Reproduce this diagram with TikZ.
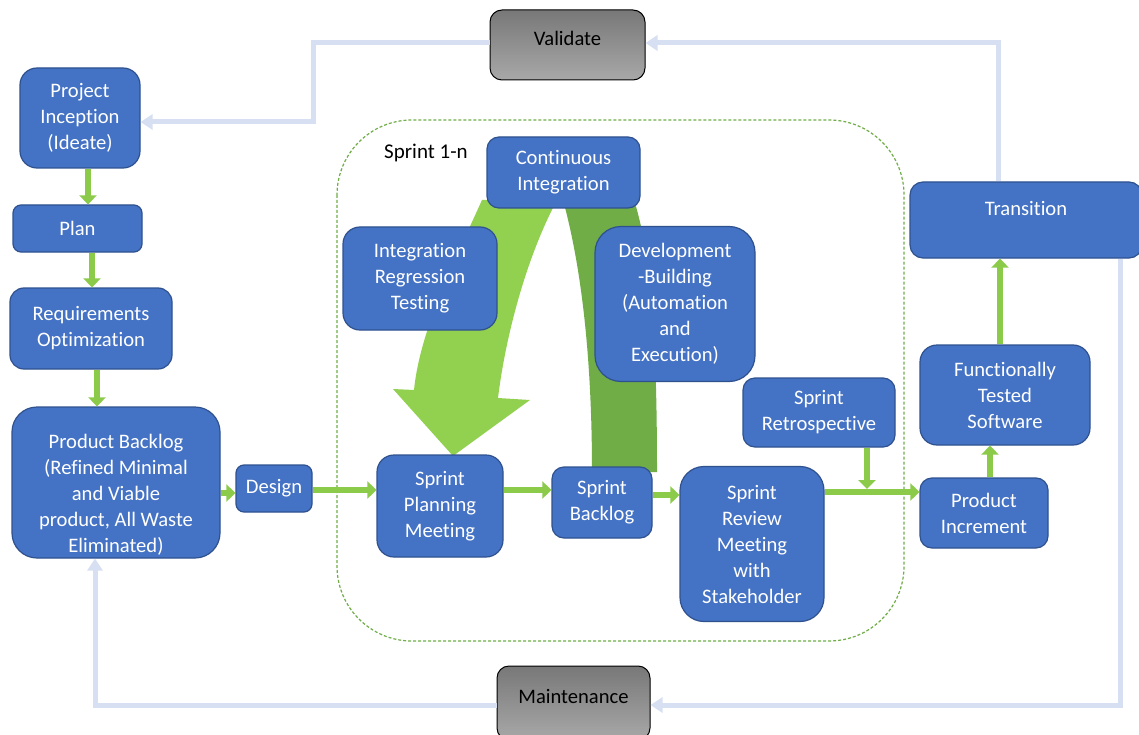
\documentclass[tikz,border=0pt]{standalone}
\usepackage{fontspec}
\setmainfont{Carlito}[Ligatures=NoCommon]
\usetikzlibrary{arrows.meta}

\definecolor{boxblue}{HTML}{4472C4}
\definecolor{boxedge}{HTML}{2F528F}
\definecolor{flowgreen}{HTML}{8CCB4A}
\definecolor{bandgreen}{HTML}{92D050}
\definecolor{banddark}{HTML}{70AD47}
\definecolor{loopblue}{RGB}{214,224,242}
\definecolor{greytop}{RGB}{120,120,120}
\definecolor{greybot}{RGB}{168,168,168}

% text lifted (positive) or lowered (negative) inside its box
\newcommand{\liftline}[2]{\raisebox{#1}[0pt][0pt]{#2}}
\newcommand{\liftblock}[2]{\raisebox{#1}[0pt][0pt]{\begin{tabular}{@{}c@{}}#2\end{tabular}}}

\tikzset{
  box/.style={draw=boxedge, line width=1.2pt, fill=boxblue, text=white,
    align=center, inner sep=2pt, font=\fontsize{20.6}{26}\selectfont},
  greybox/.style={draw=black, line width=1pt, top color=greytop, bottom color=greybot,
    text=black, align=center, inner sep=2pt, rounded corners=12pt,
    font=\fontsize{20.6}{26}\selectfont},
  garrow/.style={draw=flowgreen, line width=6pt,
    -{Triangle[width=17pt,length=9pt]}},
  loop/.style={draw=loopblue, line width=5pt,
    -{Triangle[width=15pt,length=12pt]}},
  sprintzone/.style={draw=banddark, line width=1.2pt, dash pattern=on 3pt off 2pt,
    rounded corners=75pt}
}

\begin{document}
\begin{tikzpicture}[x=1pt,y=-1pt]
\clip (0,0) rectangle (1139,735);
\fill[white] (0,0) rectangle (1139,735);

% sprint boundary
\draw[sprintzone] (337,120) rectangle (904,641);
\node[font=\fontsize{21}{26}\selectfont, text=black] (sprintlabel) at (426,153) {Sprint 1-n};

% curved bands of the build / test cycle
\fill[bandgreen] (482,200) .. controls (455,260) and (420,330) .. (414,390)
  -- (393,389) -- (453,456) -- (530,400) -- (498,398)
  .. controls (505,340) and (525,260) .. (557,200) -- cycle;
\fill[banddark] (563,200) .. controls (585,280) and (592,380) .. (592,472)
  -- (657,472) .. controls (657,330) and (650,250) .. (634,200) -- cycle;

% process boxes
\node[greybox, minimum width=155pt, minimum height=70pt] (validate) at (567.5,45) {\liftline{-1pt}{Validate}};
\node[greybox, minimum width=153pt, minimum height=74pt] (maint) at (573.5,703) {\liftline{0pt}{Maintenance}};

\node[box, minimum width=120pt, minimum height=100pt, rounded corners=17pt] (inception) at (80,118) {Project\\Inception\\(Ideate)};
\node[box, minimum width=129pt, minimum height=47pt, rounded corners=8pt] (plan) at (77.5,228.5) {Plan};
\node[box, minimum width=162pt, minimum height=81pt, rounded corners=14pt] (req) at (91,328.5) {Requirements\\Optimization};
\node[box, minimum width=208pt, minimum height=151pt, rounded corners=25pt] (pb) at (116,482.5)
  {\liftblock{-17.5pt}{Product Backlog\\(Refined Minimal\\and Viable\\product, All Waste\\Eliminated)}};
\node[box, minimum width=76pt, minimum height=47pt, rounded corners=8pt] (design) at (274,488.5) {Design};
\node[box, minimum width=126pt, minimum height=102pt, rounded corners=17pt] (spm) at (440,506) {Sprint\\Planning\\Meeting};
\node[box, minimum width=100pt, minimum height=71pt, rounded corners=12pt] (sb) at (602,502.5) {Sprint\\Backlog};
\node[box, minimum width=144pt, minimum height=155pt, rounded corners=24pt] (srm) at (752,544) {Sprint\\Review\\Meeting\\with\\Stakeholder};
\node[box, minimum width=152pt, minimum height=69pt, rounded corners=12pt] (sr) at (819,412.5) {Sprint\\Retrospective};
\node[box, minimum width=128pt, minimum height=70pt, rounded corners=12pt] (pi) at (984,513) {Product\\Increment};
\node[box, minimum width=170pt, minimum height=100pt, rounded corners=17pt] (fts) at (1005,395) {Functionally\\Tested\\Software};
\node[box, minimum width=232pt, minimum height=76pt, rounded corners=13pt] (transition) at (1026,220) {\liftline{4pt}{Transition}};
\node[box, minimum width=153pt, minimum height=71pt, rounded corners=12pt] (ci) at (563.5,172.5) {Continuous\\Integration};
\node[box, minimum width=154pt, minimum height=103pt, rounded corners=17pt] (irt) at (420,278.5) {Integration\\Regression\\Testing};
\node[box, minimum width=160pt, minimum height=155pt, rounded corners=26pt] (dev) at (675,304) {Development\\-Building\\(Automation\\and\\Execution)};

% forward flow
\draw[garrow] (inception.south -| 88,0) -- (plan.north -| 88,0);
\draw[garrow] (plan.south -| 92,0) -- (req.north -| 92,0);
\draw[garrow] (req.south -| 97,0) -- (pb.north -| 97,0);
\draw[garrow] (pb.east |- 0,493) -- (design.west |- 0,493);
\draw[garrow] (design.east |- 0,490) -- (spm.west |- 0,490);
\draw[garrow] (spm.east |- 0,490) -- (sb.west |- 0,490);
\draw[garrow] (sb.east |- 0,495) -- (srm.west |- 0,495);
\draw[garrow] (srm.east |- 0,492) -- (pi.west |- 0,492);
\draw[garrow] (sr.south -| 867,0) -- (867,489);
\draw[garrow] (pi.north -| 990,0) -- (fts.south -| 990,0);
\draw[garrow] (fts.north -| 1000,0) -- (transition.south -| 1000,0);

% feedback loops
\draw[loop] (validate.west |- 0,43) -- (313,43) -- (313,122) -- (inception.east |- 0,122);
\draw[loop] (transition.north -| 998,0) |- (validate.east |- 0,43);
\draw[loop] (transition.south -| 1120,0) |- (maint.east |- 0,705);
\draw[loop] (maint.west |- 0,705) -| (pb.south -| 95,0);
\end{tikzpicture}
\end{document}
